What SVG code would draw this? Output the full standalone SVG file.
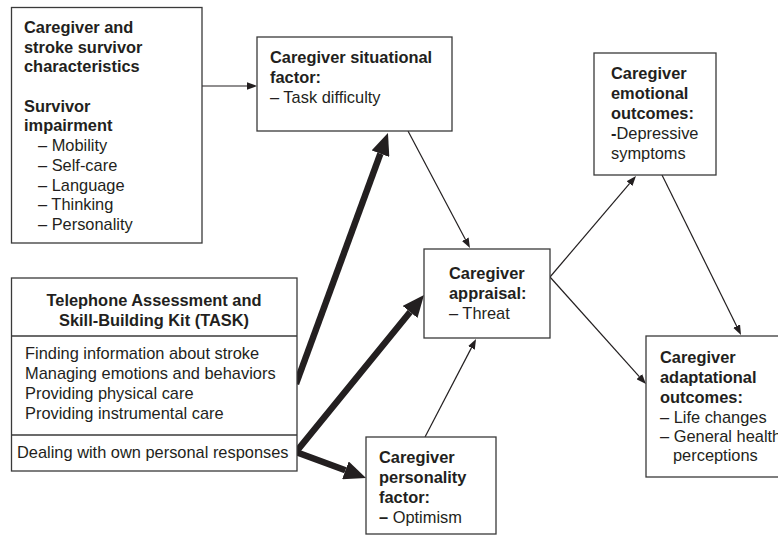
<svg xmlns="http://www.w3.org/2000/svg" width="778" height="536" viewBox="0 0 778 536">
<defs>
<style>
.box{fill:#fff;stroke:#3a3a3a;stroke-width:1.3}
.div{stroke:#3a3a3a;stroke-width:1.3}
text{font-family:"Liberation Sans",Arial,sans-serif;font-size:16.4px;fill:#231f20}
.b{font-weight:bold}
.thin{stroke:#231f20;stroke-width:1.2;fill:none;marker-end:url(#ah)}
.thick{stroke:#231f20;stroke-width:6.5;fill:none;stroke-linejoin:miter}
</style>
<marker id="ah" markerUnits="userSpaceOnUse" viewBox="0 -4 10 8" markerWidth="10" markerHeight="8" refX="0" refY="0" orient="auto">
<path d="M0,-3.8 L10,0 L0,3.8 Z" fill="#231f20"/>
</marker>
<marker id="AH" markerUnits="userSpaceOnUse" viewBox="0 -9.5 22 19" markerWidth="22" markerHeight="19" refX="0" refY="0" orient="auto">
<path d="M0,-9.5 L22,0 L0,9.5 Z" fill="#231f20"/>
</marker>
<marker id="AHs" markerUnits="userSpaceOnUse" viewBox="0 -9.5 22 19" markerWidth="22" markerHeight="19" refX="0" refY="0" orient="auto-start-reverse">
<path d="M0,-9.5 L22,0 L0,9.5 Z" fill="#231f20"/>
</marker>
</defs>

<g id="connectors">
<line class="thin" x1="202" y1="86" x2="247" y2="86"/>
<line class="thin" x1="408" y1="131" x2="465.3" y2="239.2"/>
<line class="thin" x1="425" y1="437" x2="471.4" y2="347.9"/>
<line class="thin" x1="550" y1="277" x2="629.5" y2="183.6"/>
<line class="thin" x1="550" y1="277" x2="639.3" y2="376.6"/>
<line class="thin" x1="662" y1="175" x2="736.6" y2="326"/>
<line class="thick" x1="296" y1="384" x2="380.4" y2="153.7" marker-end="url(#AH)"/>
<path class="thick" d="M410.1,312 L296,452 L345.4,470.3" marker-start="url(#AHs)" marker-end="url(#AH)"/>
</g>

<g id="characteristics">
<rect class="box" x="11.5" y="7.5" width="190.5" height="235.5"/>
<text class="b" x="24" y="33">Caregiver and</text>
<text class="b" x="24" y="53">stroke survivor</text>
<text class="b" x="24" y="72">characteristics</text>
<text class="b" x="24" y="112">Survivor</text>
<text class="b" x="24" y="131">impairment</text>
<text x="38" y="151">– Mobility</text>
<text x="38" y="171">– Self-care</text>
<text x="38" y="190.5">– Language</text>
<text x="38" y="210">– Thinking</text>
<text x="38" y="229.5">– Personality</text>
</g>

<g id="situational">
<rect class="box" x="257" y="37" width="195" height="94"/>
<text class="b" x="270" y="63">Caregiver situational</text>
<text class="b" x="270" y="83">factor:</text>
<text x="270" y="103">– Task difficulty</text>
</g>

<g id="emotional">
<rect class="box" x="594" y="53" width="122" height="122"/>
<text class="b" x="611" y="79">Caregiver</text>
<text class="b" x="611" y="99">emotional</text>
<text class="b" x="611" y="119">outcomes:</text>
<text x="611" y="139"><tspan class="b">-</tspan>Depressive</text>
<text x="611" y="159">symptoms</text>
</g>

<g id="appraisal">
<rect class="box" x="424" y="249" width="126" height="89"/>
<text class="b" x="449" y="279">Caregiver</text>
<text class="b" x="449" y="299">appraisal:</text>
<text x="449" y="319">– Threat</text>
</g>

<g id="task">
<rect class="box" x="11.5" y="278" width="285.5" height="193"/>
<line class="div" x1="11.5" y1="336" x2="297" y2="336"/>
<line class="div" x1="11.5" y1="435" x2="297" y2="435"/>
<text class="b" x="154" y="306" text-anchor="middle">Telephone Assessment and</text>
<text class="b" x="154" y="326" text-anchor="middle">Skill-Building Kit (TASK)</text>
<text x="25" y="359">Finding information about stroke</text>
<text x="25" y="379">Managing emotions and behaviors</text>
<text x="25" y="399">Providing physical care</text>
<text x="25" y="419">Providing instrumental care</text>
<text x="17" y="458">Dealing with own personal responses</text>
</g>

<g id="personality">
<rect class="box" x="366" y="437" width="130" height="97"/>
<text class="b" x="379" y="463">Caregiver</text>
<text class="b" x="379" y="483">personality</text>
<text class="b" x="379" y="503">factor:</text>
<text x="379" y="523"><tspan class="b">–</tspan> Optimism</text>
</g>

<g id="adaptational">
<rect class="box" x="646" y="336" width="150" height="141"/>
<text class="b" x="660" y="363">Caregiver</text>
<text class="b" x="660" y="383">adaptational</text>
<text class="b" x="660" y="403">outcomes:</text>
<text x="660" y="423">– Life changes</text>
<text x="660" y="442">– General health</text>
<text x="673" y="461">perceptions</text>
</g>
</svg>
